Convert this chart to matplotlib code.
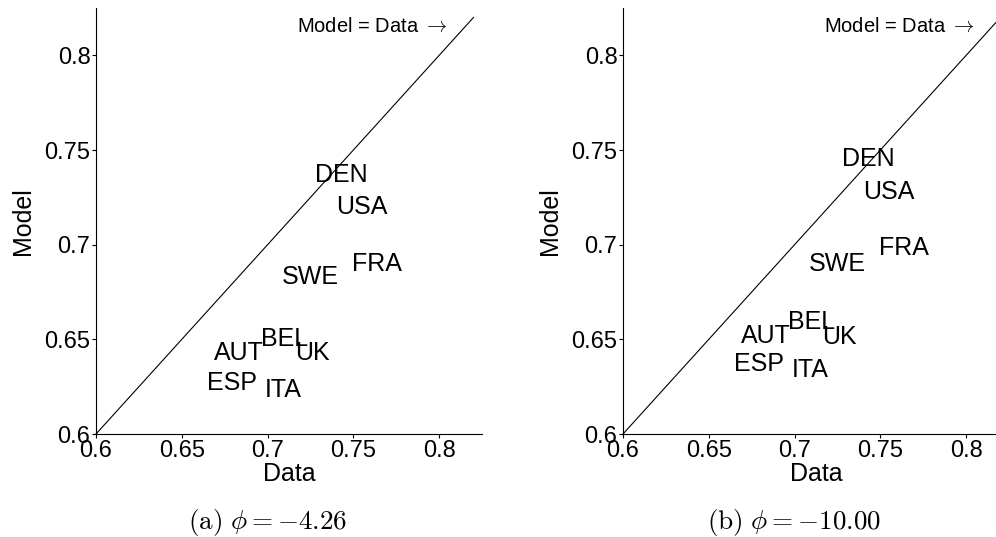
import numpy as np
import matplotlib.pyplot as plt

plt.rcParams['font.family'] = ['Liberation Sans', 'DejaVu Sans']
plt.rcParams['mathtext.fontset'] = 'cm'

# Country labels and their positions (data share, model share)
countries = ["DEN", "USA", "FRA", "SWE", "AUT", "BEL", "UK", "ESP", "ITA"]
data_x = [0.743, 0.755, 0.764, 0.725, 0.683, 0.710, 0.726, 0.679, 0.709]
model_a = [0.737, 0.720, 0.690, 0.683, 0.643, 0.650, 0.643, 0.627, 0.623]
model_b = [0.745, 0.728, 0.698, 0.690, 0.652, 0.659, 0.651, 0.637, 0.634]

ticks = [0.6, 0.65, 0.7, 0.75, 0.8]
tick_labels = ["0.6", "0.65", "0.7", "0.75", "0.8"]
captions = [r"$\mathrm{(a)}\ \phi = -4.26$", r"$\mathrm{(b)}\ \phi = -10.00$"]

fig = plt.figure(figsize=(9.96, 5.37), dpi=100)
ax_a = fig.add_axes([0.0964, 0.1918, 0.3876, 0.7933])
ax_b = fig.add_axes([0.6255, 0.1918, 0.3876, 0.7933])

def draw_panel(ax, model):
    ax.plot([0.6, 0.82], [0.6, 0.82], color="black", linewidth=0.8, clip_on=False)
    for name, x, y in zip(countries, data_x, model):
        ax.text(x, y, name, fontsize=18, ha="center", va="center")
    ax.text(0.805, 0.815, r"Model = Data $\rightarrow$", fontsize=14.5, ha="right", va="center")
    ax.set_xlim(0.6, 0.825)
    ax.set_ylim(0.6, 0.825)
    ax.set_xticks(ticks)
    ax.set_xticklabels(tick_labels)
    ax.set_yticks(ticks)
    ax.set_yticklabels(tick_labels)
    ax.tick_params(labelsize=17, length=3, width=0.8, pad=1)
    ax.spines["top"].set_visible(False)
    ax.spines["right"].set_visible(False)
    ax.set_xlabel("Data", fontsize=18, labelpad=0)
    ax.set_ylabel("Model", fontsize=18, labelpad=7)

draw_panel(ax_a, model_a)
draw_panel(ax_b, model_b)

fig.text(268 / 996, 1 - 522 / 537, captions[0], fontsize=19.5, ha="center", va="center")
fig.text(794 / 996, 1 - 522 / 537, captions[1], fontsize=19.5, ha="center", va="center")

plt.savefig("out.png", dpi=100)
